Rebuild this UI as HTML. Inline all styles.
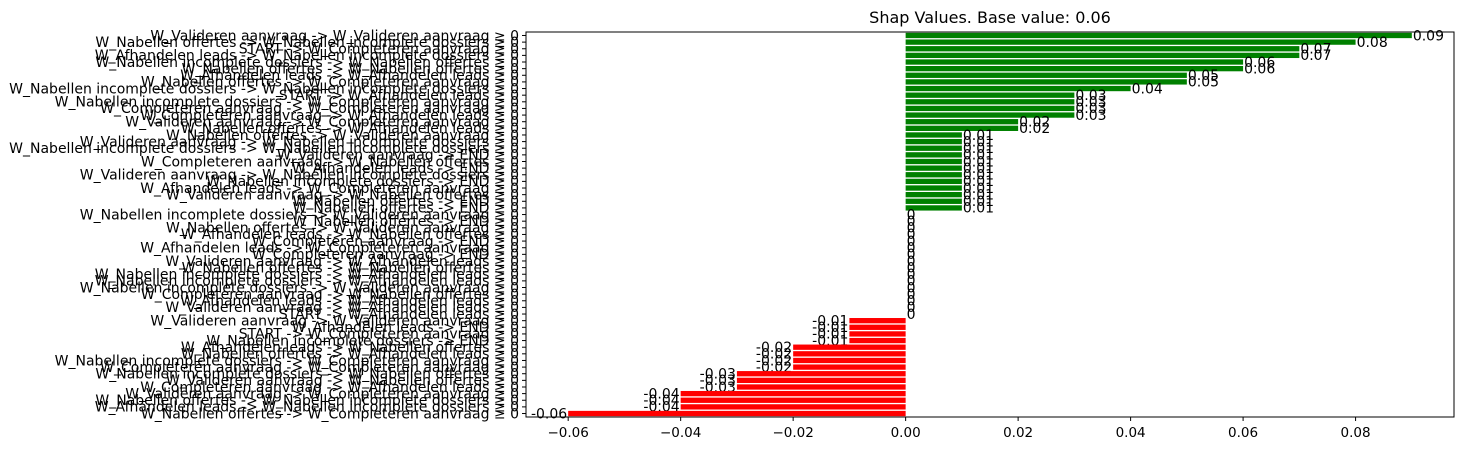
<!DOCTYPE html>
<html><head><meta charset="utf-8"><style>
html,body{margin:0;padding:0;background:#fff;}
svg{display:block;font-family:"DejaVu Sans","Liberation Sans",sans-serif;}
</style></head><body>
<svg id="chart" width="1464" height="451"></svg>
<script>
const labels = [
"W_Valideren aanvraag -> W_Valideren aanvraag ≥ 0",
"W_Nabellen offertes -> W_Nabellen incomplete dossiers ≥ 0",
"START -> W_Completeren aanvraag ≥ 0",
"W_Afhandelen leads -> W_Nabellen incomplete dossiers ≥ 0",
"W_Nabellen incomplete dossiers -> W_Nabellen offertes ≥ 0",
"W_Nabellen offertes -> W_Nabellen offertes ≥ 0",
"W_Afhandelen leads -> W_Afhandelen leads ≥ 0",
"W_Nabellen offertes -> W_Completeren aanvraag ≥ 0",
"W_Nabellen incomplete dossiers -> W_Nabellen incomplete dossiers ≥ 0",
"START -> W_Afhandelen leads ≥ 0",
"W_Nabellen incomplete dossiers -> W_Completeren aanvraag ≥ 0",
"W_Completeren aanvraag -> W_Completeren aanvraag ≥ 0",
"W_Completeren aanvraag -> W_Afhandelen leads ≥ 0",
"W_Valideren aanvraag -> W_Completeren aanvraag ≥ 0",
"W_Nabellen offertes -> W_Afhandelen leads ≥ 0",
"W_Nabellen offertes -> W_Valideren aanvraag ≥ 0",
"W_Valideren aanvraag -> W_Nabellen incomplete dossiers ≥ 0",
"W_Nabellen incomplete dossiers -> W_Nabellen incomplete dossiers ≥ 0",
"W_Valideren aanvraag -> END ≥ 0",
"W_Completeren aanvraag -> W_Nabellen offertes ≥ 0",
"W_Afhandelen leads -> END ≥ 0",
"W_Valideren aanvraag -> W_Nabellen incomplete dossiers ≥ 0",
"W_Nabellen incomplete dossiers -> END ≥ 0",
"W_Afhandelen leads -> W_Completeren aanvraag ≥ 0",
"W_Valideren aanvraag -> W_Nabellen offertes ≥ 0",
"W_Nabellen offertes -> END ≥ 0",
"W_Nabellen offertes -> END ≥ 0",
"W_Nabellen incomplete dossiers -> W_Valideren aanvraag ≥ 0",
"W_Nabellen offertes -> END ≥ 0",
"W_Nabellen offertes -> W_Valideren aanvraag ≥ 0",
"W_Afhandelen leads -> W_Nabellen offertes ≥ 0",
"W_Completeren aanvraag -> END ≥ 0",
"W_Afhandelen leads -> W_Completeren aanvraag ≥ 0",
"W_Completeren aanvraag -> END ≥ 0",
"W_Valideren aanvraag -> W_Afhandelen leads ≥ 0",
"W_Nabellen offertes -> W_Nabellen offertes ≥ 0",
"W_Nabellen incomplete dossiers -> W_Afhandelen leads ≥ 0",
"W_Nabellen incomplete dossiers -> W_Afhandelen leads ≥ 0",
"W_Nabellen incomplete dossiers -> W_Valideren aanvraag ≥ 0",
"W_Completeren aanvraag -> W_Nabellen offertes ≥ 0",
"W_Afhandelen leads -> W_Afhandelen leads ≥ 0",
"W_Valideren aanvraag -> W_Afhandelen leads ≥ 0",
"START -> W_Afhandelen leads ≥ 0",
"W_Valideren aanvraag -> W_Valideren aanvraag ≥ 0",
"W_Afhandelen leads -> END ≥ 0",
"START -> W_Completeren aanvraag ≥ 0",
"W_Nabellen incomplete dossiers -> END ≥ 0",
"W_Afhandelen leads -> W_Nabellen offertes ≥ 0",
"W_Nabellen offertes -> W_Afhandelen leads ≥ 0",
"W_Nabellen incomplete dossiers -> W_Completeren aanvraag ≥ 0",
"W_Completeren aanvraag -> W_Completeren aanvraag ≥ 0",
"W_Nabellen incomplete dossiers -> W_Nabellen offertes ≥ 0",
"W_Valideren aanvraag -> W_Nabellen offertes ≥ 0",
"W_Completeren aanvraag -> W_Afhandelen leads ≥ 0",
"W_Valideren aanvraag -> W_Completeren aanvraag ≥ 0",
"W_Nabellen offertes -> W_Nabellen incomplete dossiers ≥ 0",
"W_Afhandelen leads -> W_Nabellen incomplete dossiers ≥ 0",
"W_Nabellen offertes -> W_Completeren aanvraag ≥ 0"
];
const values = [0.09,0.08,0.07,0.07,0.06,0.06,0.05,0.05,0.04,0.03,0.03,0.03,0.03,0.02,0.02,
0.01,0.01,0.01,0.01,0.01,0.01,0.01,0.01,0.01,0.01,0.01,0.01,
0,0,0,0,0,0,0,0,0,0,0,0,0,0,0,0,
-0.01,-0.01,-0.01,-0.01,-0.02,-0.02,-0.02,-0.02,-0.03,-0.03,-0.03,-0.04,-0.04,-0.04,-0.06];
const xTicks = [-0.06,-0.04,-0.02,0,0.02,0.04,0.06,0.08];
const xTickLabels = ["−0.06","−0.04","−0.02","0.00","0.02","0.04","0.06","0.08"];
const title = "Shap Values. Base value: 0.06";

const NS="http://www.w3.org/2000/svg";
const svg=document.getElementById('chart');
const L=526,R=1454,T=32,B=417;
const xmin=-0.0675,xmax=0.0975;
const n=values.length;
const X=v=>L+(v-xmin)/(xmax-xmin)*(R-L);
const step=(B-T)/(n-1+1.05);
const Y=i=>T+step*0.525+i*step;
function mk(tag,attrs,txt){const e=document.createElementNS(NS,tag);for(const k in attrs)e.setAttribute(k,attrs[k]);if(txt!==undefined)e.textContent=txt;svg.appendChild(e);return e;}

const t=mk('text',{x:(L+R)/2,y:23,'text-anchor':'middle','font-size':'16'},title);



values.forEach((v,i)=>{
  const y=Y(i),h=step*0.8;
  const x0=X(0),x1=X(v);
  const r=mk('rect',{x:Math.min(x0,x1),y:y-h/2,width:Math.abs(x1-x0),height:h,fill:v>=0?'#008000':'#ff0000'});
  
  
  const lab=v===0?'0':String(v);
  const vt=mk('text',{x:v<0?x1-1:x1+1,y:y+4.8,'text-anchor':v<0?'end':'start','font-size':'14'},lab);
  
  
  mk('line',{x1:L,x2:L-4,y1:y,y2:y,stroke:'#000','stroke-width':1});
  const yl=mk('text',{x:L-7,y:y+4.8,'text-anchor':'end','font-size':'14'},labels[i]);
  
  
});

xTicks.forEach((v,i)=>{
  const x=X(v);
  mk('line',{x1:x,x2:x,y1:B,y2:B+4,stroke:'#000','stroke-width':1});
  const tl=mk('text',{x:x,y:B+20,'text-anchor':'middle','font-size':'13.5'},xTickLabels[i]);
  
  
});

const fr=mk('rect',{x:L,y:T,width:R-L,height:B-T,fill:'none',stroke:'#000','stroke-width':1});


</script>
</body></html>
